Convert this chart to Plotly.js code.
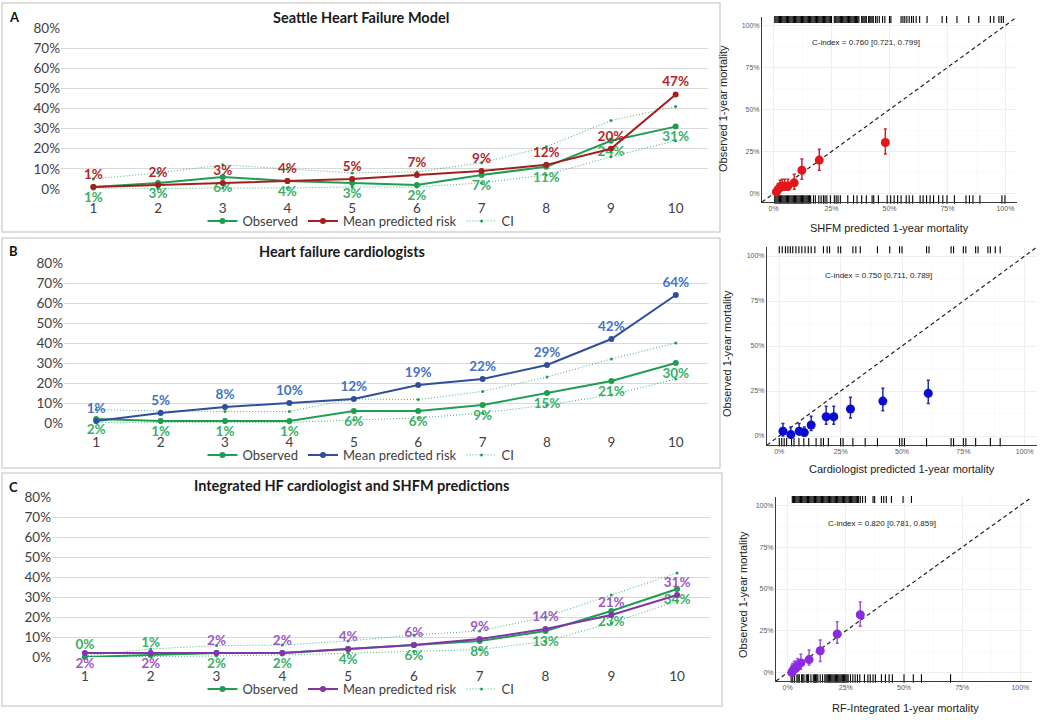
<!DOCTYPE html>
<html>
<head>
<meta charset="utf-8">
<script src="https://cdn.plot.ly/plotly-3.0.1.min.js"></script>
<style>
html,body{margin:0;padding:0;background:#fff;}
#chart{width:1042px;height:720px;}
</style>
</head>
<body>
<div id="chart"></div>
<script>
// ---------------- DATA ----------------
const deciles = [1, 2, 3, 4, 5, 6, 7, 8, 9, 10];
const decileLabels = ['1', '2', '3', '4', '5', '6', '7', '8', '9', '10'];
const pctTickVals = [0, 0.1, 0.2, 0.3, 0.4, 0.5, 0.6, 0.7, 0.8];

// Panel A: Seattle Heart Failure Model
const shfmObserved  = [0.01, 0.03, 0.06, 0.04, 0.03, 0.02, 0.07, 0.11, 0.24, 0.31];
const shfmPredicted = [0.01, 0.02, 0.03, 0.04, 0.05, 0.07, 0.09, 0.12, 0.20, 0.47];
const shfmCIUpper   = [0.05, 0.08, 0.12, 0.10, 0.08, 0.085, 0.13, 0.21, 0.34, 0.41];
const shfmCILower   = [0.00, 0.003, 0.005, 0.005, 0.01, 0.01, 0.03, 0.07, 0.16, 0.24];

// Panel B: Heart failure cardiologists
const cardObserved  = [0.02, 0.01, 0.01, 0.01, 0.06, 0.06, 0.09, 0.15, 0.21, 0.30];
const cardPredicted = [0.01, 0.05, 0.08, 0.10, 0.12, 0.19, 0.22, 0.29, 0.42, 0.64];
const cardCIUpper   = [0.067, 0.06, 0.058, 0.058, 0.12, 0.117, 0.158, 0.23, 0.32, 0.40];
const cardCILower   = [0.003, 0.003, 0.003, 0.003, 0.015, 0.025, 0.05, 0.09, 0.14, 0.22];

// Panel C: Integrated HF cardiologist and SHFM predictions
const intObserved   = [0.00, 0.01, 0.02, 0.02, 0.04, 0.06, 0.08, 0.13, 0.23, 0.34];
const intPredicted  = [0.02, 0.02, 0.02, 0.02, 0.04, 0.06, 0.09, 0.14, 0.21, 0.31];
const intCIUpper    = [0.005, 0.04, 0.057, 0.06, 0.08, 0.11, 0.13, 0.20, 0.31, 0.42];
const intCILower    = [0.00, 0.002, 0.005, 0.01, 0.02, 0.028, 0.037, 0.078, 0.17, 0.28];

// Calibration plots (predicted vs observed 1-year mortality)
const calTickVals = [0, 0.25, 0.5, 0.75, 1];
const calTickText = ['0%', '25%', '50%', '75%', '100%'];
const calRange = [-0.05, 1.05];

const shfmCalPred  = [0.012, 0.020, 0.028, 0.037, 0.048, 0.062, 0.089, 0.122, 0.197, 0.482];
const shfmCalObs   = [0.010, 0.025, 0.040, 0.045, 0.045, 0.045, 0.064, 0.139, 0.199, 0.304];
const shfmCalHigh  = [0.040, 0.060, 0.080, 0.085, 0.085, 0.085, 0.115, 0.205, 0.264, 0.384];
const shfmCalLow   = [0.000, 0.005, 0.015, 0.020, 0.020, 0.020, 0.026, 0.085, 0.139, 0.235];
const shfmRugTop = [0.005,0.010,0.015,0.020,0.025,0.030,0.035,0.040,0.045,0.050,0.055,0.060,0.065,0.070,0.075,0.080,0.085,0.090,0.095,0.100,
  0.105,0.110,0.115,0.120,0.125,0.130,0.135,0.140,0.145,0.150,0.155,0.160,0.165,0.170,0.175,0.180,0.185,0.190,0.195,0.200,
  0.205,0.210,0.215,0.220,0.225,0.230,0.235,0.240,0.245,0.250,0.262,0.268,0.273,0.278,0.283,0.288,0.293,0.298,0.303,0.308,
  0.313,0.318,0.323,0.328,0.333,0.338,0.343,0.348,0.353,0.358,0.363,0.368,0.380,0.385,0.390,0.395,0.400,0.410,0.415,0.420,
  0.425,0.430,0.440,0.447,0.456,0.470,0.480,0.500,0.506,0.550,0.558,0.566,0.575,0.585,0.595,0.603,0.615,0.630,0.662,0.727,
  0.746,0.791,0.842,0.885,0.935,0.950,0.972,0.982,0.991];
const shfmRugBottom = [0.005,0.010,0.015,0.020,0.025,0.030,0.035,0.040,0.045,0.050,0.055,0.060,0.065,0.070,0.075,0.080,0.085,0.090,0.095,0.100,
  0.105,0.110,0.115,0.120,0.125,0.130,0.135,0.140,0.145,0.150,0.155,0.160,0.172,0.180,0.195,0.205,0.215,0.222,0.230,0.245,
  0.262,0.270,0.278,0.288,0.320,0.345,0.360,0.380,0.400,0.425,0.432,0.452,0.490,0.505,0.520,0.535,0.550,0.572,0.585,0.600,
  0.632,0.645,0.660,0.675,0.690,0.712,0.730,0.748,0.780,0.830,0.845,0.860,0.890,0.985,0.998];

const cardCalPred = [0.015, 0.047, 0.081, 0.102, 0.130, 0.191, 0.222, 0.290, 0.422, 0.607];
const cardCalObs  = [0.027, 0.008, 0.027, 0.019, 0.061, 0.107, 0.107, 0.150, 0.194, 0.237];
const cardCalHigh = [0.070, 0.050, 0.070, 0.050, 0.110, 0.165, 0.165, 0.215, 0.265, 0.310];
const cardCalLow  = [0.000, 0.000, 0.005, 0.000, 0.030, 0.065, 0.065, 0.100, 0.140, 0.180];
const cardRugTop = [0.000,0.012,0.025,0.035,0.045,0.055,0.068,0.080,0.092,0.105,0.118,0.130,0.145,0.180,0.195,0.205,0.240,0.250,
  0.300,0.312,0.330,0.400,0.450,0.490,0.500,0.600,0.610,0.700,0.710,0.750,0.760,0.800,0.810,0.850,0.860,0.880,0.900];
const cardRugBottom = [0.000,0.010,0.020,0.030,0.050,0.060,0.080,0.100,0.120,0.150,0.170,0.180,0.200,0.250,0.260,0.300,0.350,
  0.400,0.490,0.500,0.510,0.600,0.700,0.710,0.750,0.760,0.800,0.860,0.900];

const intCalPred = [0.018, 0.022, 0.028, 0.035, 0.043, 0.057, 0.092, 0.140, 0.213, 0.312];
const intCalObs  = [0.000, 0.012, 0.022, 0.026, 0.040, 0.058, 0.078, 0.131, 0.231, 0.346];
const intCalHigh = [0.046, 0.055, 0.066, 0.070, 0.085, 0.110, 0.135, 0.195, 0.304, 0.423];
const intCalLow  = [0.000, 0.000, 0.006, 0.008, 0.016, 0.020, 0.046, 0.066, 0.175, 0.278];
const intRugTop = [0.020,0.025,0.030,0.035,0.040,0.045,0.050,0.055,0.060,0.065,0.070,0.075,0.080,0.085,0.090,0.095,0.100,0.105,0.110,0.115,
  0.120,0.125,0.130,0.135,0.140,0.145,0.150,0.155,0.160,0.165,0.170,0.175,0.180,0.185,0.190,0.195,0.200,0.205,0.210,0.215,
  0.220,0.225,0.230,0.235,0.240,0.245,0.250,0.255,0.260,0.265,0.270,0.275,0.280,0.285,0.290,0.295,0.300,0.305,0.312,0.322,
  0.334,0.367,0.374,0.403,0.413,0.424,0.446,0.496,0.532];
const intRugBottom = [0.015,0.022,0.030,0.040,0.045,0.050,0.060,0.065,0.070,0.080,0.085,0.090,0.100,0.110,0.115,0.120,0.125,0.130,
  0.140,0.150,0.160,0.165,0.170,0.175,0.180,0.185,0.190,0.195,0.200,0.205,0.210,0.215,0.220,0.225,0.230,0.235,0.240,0.245,
  0.250,0.255,0.260,0.270,0.280,0.290,0.300,0.310,0.330,0.345,0.355,0.367,0.377,0.403,0.420,0.436,0.450,0.500,0.540,0.575,0.700];

// ---------------- STYLE ----------------
const W = 1042, H = 720;
const X = p => p / W;
const Y = p => 1 - p / H;
const leftFont = 'Lato, Noto Sans, sans-serif';
const rightFont = 'Liberation Sans, Arial, sans-serif';
const green = '#1f9e52', greenText = '#38b068', ciGreen = '#3cb371';
const panels = [
  {key: 'A', title: 'Seattle Heart Failure Model', obs: shfmObserved, pred: shfmPredicted, up: shfmCIUpper, lo: shfmCILower,
   line: '#a51e1e', text: '#b3262a', xd: [61, 708], yd: [189, 28], titleY: 17, titleX: 361, letterY: 17, legY: 221, legendId: 'legend',
   obsPos: null, predPos: null},
  {key: 'B', title: 'Heart failure cardiologists', obs: cardObserved, pred: cardPredicted, up: cardCIUpper, lo: cardCILower,
   line: '#2f4f9e', text: '#4472c4', xd: [64, 708], yd: [423, 263], titleY: 252, titleX: 342, letterY: 251, legY: 455, legendId: 'legend2',
   obsPos: null, predPos: null},
  {key: 'C', title: 'Integrated HF cardiologist and SHFM predictions', obs: intObserved, pred: intPredicted, up: intCIUpper, lo: intCILower,
   line: '#8235aa', text: '#9b59c6', xd: [52, 710], yd: [657, 497], titleY: 485, titleX: 351, letterY: 487, legY: 689, legendId: 'legend3',
   obsPos: ['top center', 'top center', 'bottom center', 'bottom center', 'bottom center', 'bottom center', 'bottom center', 'bottom center', 'bottom center', 'bottom center'],
   predPos: ['bottom center', 'bottom center', 'top center', 'top center', 'top center', 'top center', 'top center', 'top center', 'top center', 'top center']}
];

const data = [];
const layout = {
  width: W, height: H,
  margin: {l: 0, r: 0, t: 0, b: 0},
  paper_bgcolor: '#ffffff', plot_bgcolor: 'rgba(0,0,0,0)',
  showlegend: true,
  annotations: [], shapes: []
};

// panel borders
[[2, 720, 3, 232], [2, 720, 238, 468], [2, 722, 473, 706]].forEach(b => {
  layout.shapes.push({type: 'rect', xref: 'paper', yref: 'paper', x0: X(b[0]), x1: X(b[1]), y0: Y(b[3]), y1: Y(b[2]),
    line: {color: '#d4d4d4', width: 1.5}, fillcolor: 'rgba(0,0,0,0)'});
});

panels.forEach((p, i) => {
  const n = i + 1;
  const xa = n === 1 ? 'x' : 'x' + n, ya = n === 1 ? 'y' : 'y' + n;
  layout[n === 1 ? 'xaxis' : 'xaxis' + n] = {
    domain: [X(p.xd[0]), X(p.xd[1])], range: [0.5, 10.5], anchor: ya,
    tickmode: 'array', tickvals: deciles, ticktext: decileLabels,
    showgrid: false, zeroline: false, showline: false, ticks: '', ticklabelstandoff: 9,
    tickfont: {family: leftFont, size: 13.5, color: '#404040'}, fixedrange: true
  };
  layout[n === 1 ? 'yaxis' : 'yaxis' + n] = {
    domain: [Y(p.yd[0]), Y(p.yd[1])], range: [0, 0.8], anchor: xa,
    tickmode: 'array', tickvals: pctTickVals, tickformat: '.0%',
    showgrid: true, gridcolor: '#d9d9d9', gridwidth: 1, zeroline: false, showline: false, ticks: '',
    tickfont: {family: leftFont, size: 13.5, color: '#404040'}, fixedrange: true
  };
  const legendName = p.legendId;
  layout[legendName] = {
    orientation: 'h', x: X(361), xanchor: 'center', y: Y(p.legY), yanchor: 'middle',
    font: {family: leftFont, size: 13, color: '#404040'}, bgcolor: 'rgba(0,0,0,0)',
    itemwidth: 30, tracegroupgap: 0, traceorder: 'normal'
  };
  // CI
  data.push({x: deciles, y: p.up, xaxis: xa, yaxis: ya, type: 'scatter', mode: 'lines+markers', name: 'CI',
    legend: legendName, legendgroup: 'ci' + n, legendrank: 3,
    line: {color: ciGreen, width: 1, dash: '1px,2px'}, marker: {size: 3, color: green}, cliponaxis: false, hoverinfo: 'skip'});
  data.push({x: deciles, y: p.lo, xaxis: xa, yaxis: ya, type: 'scatter', mode: 'lines+markers', name: 'CI', showlegend: false,
    legend: legendName, legendgroup: 'ci' + n,
    line: {color: ciGreen, width: 1, dash: '1px,2px'}, marker: {size: 3, color: green}, cliponaxis: false, hoverinfo: 'skip'});
  // Observed
  data.push({x: deciles, y: p.obs, xaxis: xa, yaxis: ya, type: 'scatter', mode: 'lines+markers+text', name: 'Observed',
    legend: legendName, legendrank: 1,
    line: {color: green, width: 2}, marker: {size: 6, color: green},
    texttemplate: '<b>%{y:.0%}</b>', textposition: p.obsPos || 'bottom center',
    textfont: {family: leftFont, size: 13.5, color: greenText}, cliponaxis: false});
  // Mean predicted
  data.push({x: deciles, y: p.pred, xaxis: xa, yaxis: ya, type: 'scatter', mode: 'lines+markers+text', name: 'Mean predicted risk',
    legend: legendName, legendrank: 2,
    line: {color: p.line, width: 2}, marker: {size: 6, color: p.line},
    texttemplate: '<b>%{y:.0%}</b>', textposition: p.predPos || 'top center',
    textfont: {family: leftFont, size: 13.5, color: p.text}, cliponaxis: false});

  layout.annotations.push({xref: 'paper', yref: 'paper', x: X(p.titleX), y: Y(p.titleY), xanchor: 'center', yanchor: 'middle',
    text: '<b>' + p.title + '</b>', showarrow: false, font: {family: leftFont, size: 14.5, color: '#1a1a1a'}});
  layout.annotations.push({xref: 'paper', yref: 'paper', x: X(7), y: Y(p.letterY), xanchor: 'left', yanchor: 'middle',
    text: '<b>' + p.key + '</b>', showarrow: false, font: {family: leftFont, size: 13, color: '#111'}});
});

// ---------------- Calibration panels ----------------
const cals = [
  {pred: shfmCalPred, obs: shfmCalObs, hi: shfmCalHigh, lo: shfmCalLow, rugT: shfmRugTop, rugB: shfmRugBottom,
   color: '#e3171b', err: '#c8282c', xd: [762, 1017], yd: [202, 17],
   xTitle: 'SHFM predicted 1-year mortality', xTitlePos: [889, 228], yTitlePos: [723, 109],
   cindex: 'C-index = 0.760 [0.721, 0.799]', cPos: [866, 42]},
  {pred: cardCalPred, obs: cardCalObs, hi: cardCalHigh, lo: cardCalLow, rugT: cardRugTop, rugB: cardRugBottom,
   color: '#0a0ad0', err: '#2a2aa8', xd: [767, 1037], yd: [445, 247],
   xTitle: 'Cardiologist predicted 1-year mortality', xTitlePos: [902, 469], yTitlePos: [727, 354],
   cindex: 'C-index = 0.750 [0.711, 0.789]', cPos: [878, 275]},
  {pred: intCalPred, obs: intCalObs, hi: intCalHigh, lo: intCalLow, rugT: intRugTop, rugB: intRugBottom,
   color: '#8a2be2', err: '#a056da', xd: [776, 1032], yd: [681, 497],
   xTitle: 'RF-Integrated 1-year mortality', xTitlePos: [905, 708], yTitlePos: [743, 595],
   cindex: 'C-index = 0.820 [0.781, 0.859]', cPos: [882, 523]}
];
const rugTopY = 1.035, rugBottomY = -0.035;

cals.forEach((c, i) => {
  const n = i + 4;
  const xa = 'x' + n, ya = 'y' + n;
  const axBase = {
    range: calRange, tickmode: 'array', tickvals: calTickVals, ticktext: calTickText,
    showgrid: true, gridcolor: '#ebebeb', gridwidth: 0.8, zeroline: false,
    showline: true, linecolor: '#3a3a3a', linewidth: 1, ticks: '',
    minor: {tick0: 0, dtick: 0.125, showgrid: true, gridcolor: '#f5f5f5', gridwidth: 0.5},
    tickfont: {family: rightFont, size: 7, color: '#5a5a5a'}, fixedrange: true
  };
  layout['xaxis' + n] = Object.assign({}, axBase, {domain: [X(c.xd[0]), X(c.xd[1])], anchor: ya});
  layout['yaxis' + n] = Object.assign({}, axBase, {domain: [Y(c.yd[0]), Y(c.yd[1])], anchor: xa});

  data.push({x: calRange, y: calRange, xaxis: xa, yaxis: ya, type: 'scatter', mode: 'lines', showlegend: false,
    line: {color: '#222', width: 1.2, dash: '4px,3px'}, hoverinfo: 'skip'});
  data.push({x: c.rugT, y: c.rugT.map(() => rugTopY), xaxis: xa, yaxis: ya, type: 'scatter', mode: 'markers', showlegend: false,
    marker: {symbol: 'line-ns', size: 5, line: {color: '#000', width: 1.1}}, cliponaxis: false, hoverinfo: 'skip'});
  data.push({x: c.rugB, y: c.rugB.map(() => rugBottomY), xaxis: xa, yaxis: ya, type: 'scatter', mode: 'markers', showlegend: false,
    marker: {symbol: 'line-ns', size: 6, line: {color: '#000', width: 1.1}}, cliponaxis: false, hoverinfo: 'skip'});
  data.push({x: c.pred, y: c.obs, xaxis: xa, yaxis: ya, type: 'scatter', mode: 'markers', showlegend: false,
    marker: {size: 9, color: c.color},
    error_y: {type: 'data', symmetric: false,
      array: c.hi.map((h, k) => h - c.obs[k]), arrayminus: c.lo.map((l, k) => c.obs[k] - l),
      color: c.err, thickness: 1.5, width: 1.5},
    cliponaxis: false});

  layout.annotations.push({xref: 'paper', yref: 'paper', x: X(c.xTitlePos[0]), y: Y(c.xTitlePos[1]), xanchor: 'center', yanchor: 'middle',
    text: c.xTitle, showarrow: false, font: {family: rightFont, size: 11, color: '#222'}});
  layout.annotations.push({xref: 'paper', yref: 'paper', x: X(c.yTitlePos[0]), y: Y(c.yTitlePos[1]), xanchor: 'center', yanchor: 'middle',
    text: 'Observed 1-year mortality', textangle: -90, showarrow: false, font: {family: rightFont, size: 11, color: '#222'}});
  layout.annotations.push({xref: 'paper', yref: 'paper', x: X(c.cPos[0]), y: Y(c.cPos[1]), xanchor: 'center', yanchor: 'middle',
    text: c.cindex, showarrow: false, font: {family: rightFont, size: 8, color: '#222'}});
});

Plotly.newPlot('chart', data, layout, {staticPlot: true, displayModeBar: false});
</script>
</body>
</html>
